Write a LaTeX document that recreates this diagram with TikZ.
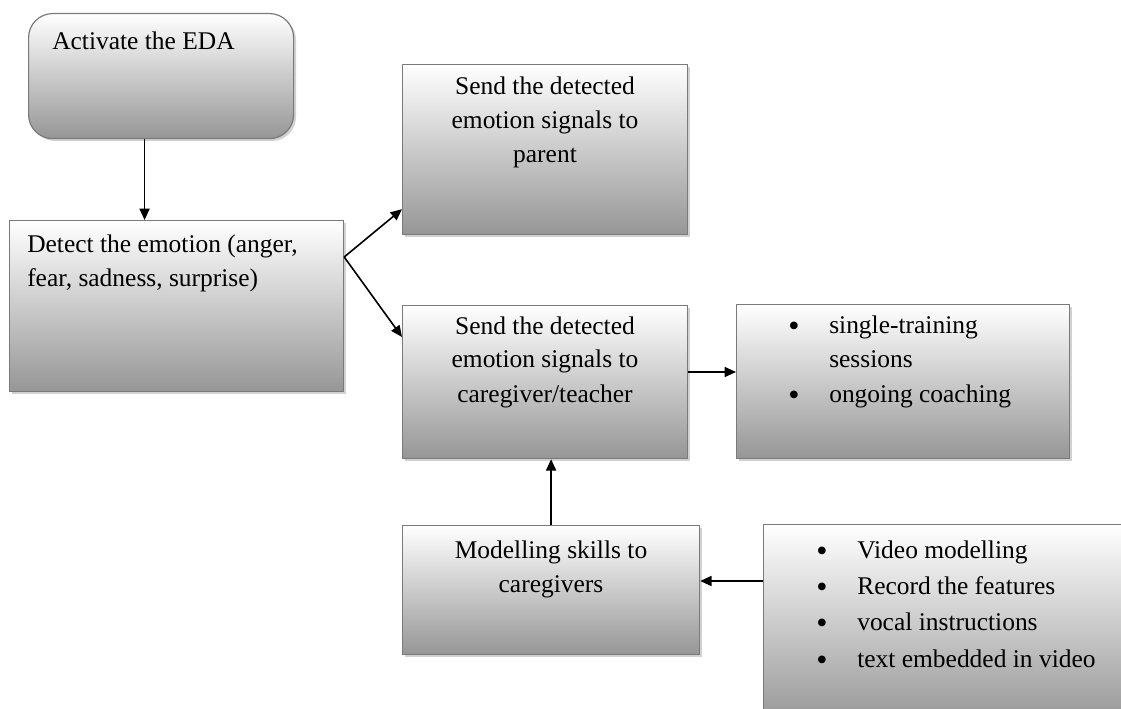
\documentclass[tikz,border=0pt]{standalone}
\usepackage{fontspec}
\setmainfont{Liberation Serif}
\usetikzlibrary{arrows.meta,calc,shadows}

\definecolor{boxedge}{RGB}{122,122,122}
\definecolor{boxbottom}{RGB}{150,150,150}

\tikzset{
  stagebox/.style={
    draw=boxedge, line width=0.9pt,
    top color=white, bottom color=boxbottom,
    drop shadow={shadow xshift=1.8pt, shadow yshift=-1.8pt, fill=black, opacity=0.18},
    inner sep=0pt, anchor=north west
  },
  roundstage/.style={stagebox, rounded corners=18pt},
  txt/.style={font=\fontsize{19.1pt}{25.5pt}\selectfont, inner sep=0pt},
  bul/.style={txt, align=left, anchor=base west},
  widebul/.style={bul, font=\fontsize{19.1pt}{27.2pt}\selectfont},
  dot/.style={bul, font=\fontsize{24pt}{25.5pt}\selectfont},
  widedot/.style={bul, font=\fontsize{24pt}{27.2pt}\selectfont},
  flow/.style={-{Triangle[length=8.5pt,width=7.5pt]}, line width=1.2pt, black}
}

\begin{document}
\begin{tikzpicture}[x=0.75pt,y=-0.75pt]
\useasboundingbox (0,0) rectangle (1121,709);
\clip (0,0) rectangle (1121,709);

% process boxes
\node[roundstage, minimum width=198.75pt, minimum height=93.75pt] (A) at (28,13) {};
\node[stagebox, minimum width=250.5pt,  minimum height=128.25pt] (B) at (9,220) {};
\node[stagebox, minimum width=213.75pt, minimum height=127.5pt]  (C) at (402,64) {};
\node[stagebox, minimum width=213.75pt, minimum height=114.75pt] (D) at (402,305) {};
\node[stagebox, minimum width=249.75pt, minimum height=115.5pt]  (E) at (736,304) {};
\node[stagebox, minimum width=222.75pt, minimum height=96.75pt]  (F) at (402,525) {};
\node[stagebox, minimum width=285pt,    minimum height=150pt]    (G) at (763,524) {};

% box texts (multi-line nodes sit on the baseline of their last line)
\node[txt, anchor=base west] (tA) at (52,50) {Activate the EDA};
\node[txt, anchor=base west, align=left] (tB) at (27,287)
  {Detect the emotion (anger,\\fear, sadness, surprise)};
\node[txt, anchor=base, align=center] (tC) at (545,163)
  {Send the detected\\emotion signals to\\parent};
\node[txt, anchor=base, align=center] (tD) at (545,402)
  {Send the detected\\emotion signals to\\caregiver/teacher};
\node[txt, anchor=base, align=center] (tF) at (551,592)
  {Modelling skills to\\caregivers};

% bullet lists
\node[dot] (bE1) at (788,336) {•};
\node[dot] (bE2) at (788,405) {•};
\node[bul] (tE1) at (829,368) {single-training\\sessions};
\node[bul] (tE2) at (829,402) {ongoing coaching};

\node[widedot] (bG) at (816,670) {•\\•\\•\\•};
\node[widebul] (tG) at (857,667)
  {Video modelling\\Record the features\\vocal instructions\\text embedded in video};

% connectors
\coordinate (aout) at ([xshift=-12.4pt]A.south);
\draw[flow] (aout) -- (aout |- B.north);

\coordinate (bfork) at ($(B.north east)+(0,37)$);
\draw[flow] (bfork) -- ($(C.south west)+(0,-26)$);
\draw[flow] (bfork) -- ($(D.north west)+(0,32)$);

\coordinate (dout) at ($(D.north east)+(0,67)$);
\draw[flow] (dout) -- (dout -| E.west);

\draw[flow] (F.north) -- (F.north |- D.south);

\coordinate (gout) at ($(G.north west)+(0,57)$);
\draw[flow] (gout) -- (gout -| F.east);
\end{tikzpicture}
\end{document}
